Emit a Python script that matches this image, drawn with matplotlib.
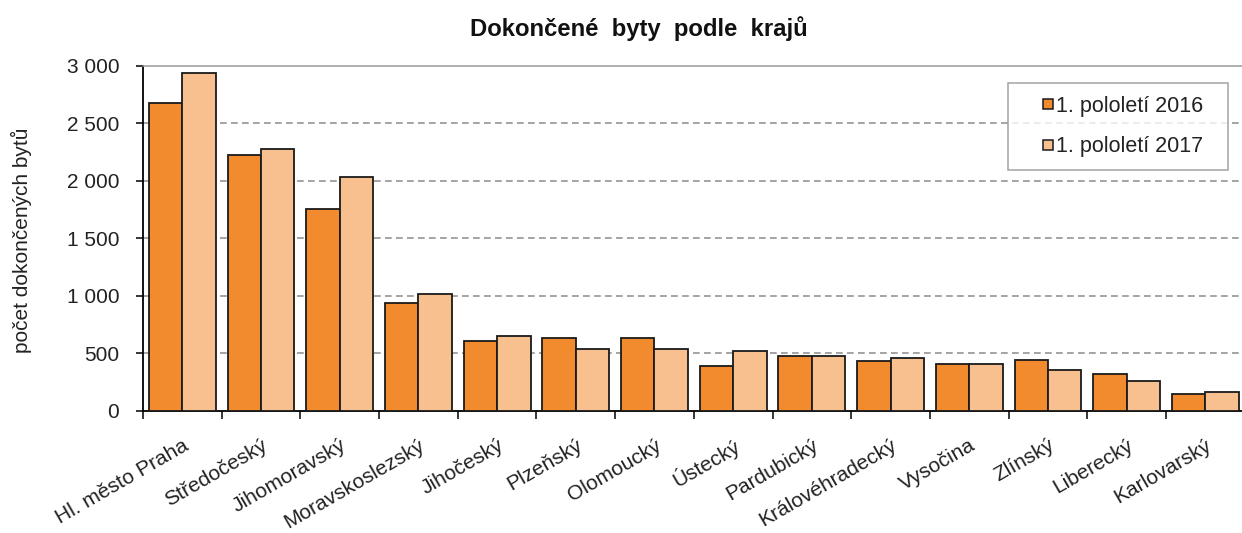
import matplotlib.pyplot as plt
import matplotlib.transforms as mtransforms
from matplotlib.lines import Line2D
import numpy as np

plt.rcParams['font.family'] = ['Liberation Sans', 'DejaVu Sans']

kraje = ['Hl. město Praha', 'Středočeský', 'Jihomoravský', 'Moravskoslezský',
         'Jihočeský', 'Plzeňský', 'Olomoucký', 'Ústecký', 'Pardubický',
         'Královéhradecký', 'Vysočina', 'Zlínský', 'Liberecký', 'Karlovarský']
byty_2016 = [2681, 2223, 1753, 935, 604, 635, 635, 392, 479, 430, 409, 444, 319, 148]
byty_2017 = [2939, 2278, 2034, 1018, 653, 534, 534, 517, 479, 461, 409, 357, 256, 165]
y_ticks = [0, 500, 1000, 1500, 2000, 2500, 3000]
y_tick_labels = ['0', '500', '1 000', '1 500', '2 000', '2 500', '3 000']

c2016 = '#F28A2E'
c2017 = '#F9C08F'

fig = plt.figure(figsize=(12.42, 5.33), dpi=100)
ax = fig.add_axes([0.1151, 0.2295, 0.8871, 0.6467])

x = np.arange(len(kraje))
w = 0.425
ax.bar(x - w/2, byty_2016, w, color=c2016, edgecolor='#1a1a1a', linewidth=1.3, zorder=3)
ax.bar(x + w/2, byty_2017, w, color=c2017, edgecolor='#1a1a1a', linewidth=1.3, zorder=3)

ax.set_xlim(-0.5, len(kraje) - 0.5)
ax.set_ylim(0, 3000)

# grid
for v in y_ticks[1:-1]:
    ax.axhline(v, color='#8c8c8c', linewidth=1.1, dashes=(4.4, 2.8), zorder=1)

ax.spines['top'].set_color('#9a9a9a')
ax.spines['top'].set_linewidth(1.1)
ax.spines['right'].set_visible(False)
ax.spines['left'].set_linewidth(1.3)
ax.spines['bottom'].set_linewidth(1.3)

ax.set_yticks(y_ticks)
ax.set_yticklabels(y_tick_labels, fontsize=15, color='#222222')
ax.tick_params(axis='y', length=5, width=1.1, pad=12)

ax.set_xticks(np.arange(len(kraje) + 1) - 0.5, minor=True)
ax.tick_params(axis='x', which='minor', length=6, width=1.1)
ax.set_xticks(x)
ax.set_xticklabels(kraje, fontsize=15, color='#222222', rotation=30,
                   ha='right', va='center', rotation_mode='anchor')
ax.tick_params(axis='x', which='major', length=0, pad=24)
offset = mtransforms.ScaledTranslation(5/100, 0, fig.dpi_scale_trans)
for lab in ax.get_xticklabels():
    lab.set_transform(lab.get_transform() + offset)

fig.text(0.514, 0.947, 'Dokončené  byty  podle  krajů', fontsize=17.2,
         fontweight='bold', ha='center', va='center', color='#111111')
fig.text(0.0175, 0.55, 'počet dokončených bytů', fontsize=15, rotation=90,
         ha='center', va='center', color='#222222')

handles = [
    Line2D([], [], marker='s', linestyle='none', markersize=7.5,
           markerfacecolor=c2016, markeredgecolor='#1a1a1a', markeredgewidth=1.1),
    Line2D([], [], marker='s', linestyle='none', markersize=7.5,
           markerfacecolor=c2017, markeredgecolor='#1a1a1a', markeredgewidth=1.1),
]
leg = fig.legend(handles, ['1. pololetí 2016\u00a0\u00a0', '1. pololetí 2017\u00a0\u00a0'],
                 loc='upper right', bbox_to_anchor=(1228/1242, 1 - 83/533),
                 fontsize=15.5, frameon=True, fancybox=False, borderpad=0.6,
                 handlelength=2.5, handletextpad=-0.88, labelspacing=0.9,
                 borderaxespad=0)
leg.get_frame().set_edgecolor('#8c8c8c')
leg.get_frame().set_linewidth(1.1)
for t in leg.get_texts():
    t.set_color('#222222')

fig.savefig('out.png', dpi=100)
